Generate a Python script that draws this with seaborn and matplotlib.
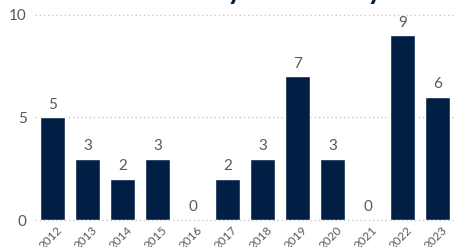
import matplotlib
matplotlib.use("Agg")
import matplotlib.pyplot as plt
import matplotlib.transforms as mtransforms
import seaborn as sns
import pandas as pd

years = ["2012", "2013", "2014", "2015", "2016", "2017", "2018", "2019", "2020", "2021", "2022", "2023"]
counts = [5, 3, 2, 3, 0, 2, 3, 7, 3, 0, 9, 6]
title = "Number of cases by calendar year"

sns.set_theme(style="white")
plt.rcParams["font.family"] = ["Lato", "DejaVu Sans"]

navy = "#011f44"
gray = "#595959"

df = pd.DataFrame({"year": years, "count": counts})

fig = plt.figure(figsize=(4.54, 2.47), dpi=100)
ax = fig.add_axes([35 / 454, 1 - 220 / 247, 420 / 454, 205 / 247])

sns.barplot(data=df, x="year", y="count", color=navy, width=0.72, ax=ax, saturation=1)

ax.set_xlim(-0.5, 11.5)
ax.set_ylim(0, 10)
ax.set_yticks([0, 5, 10])
for v in [0, 5, 10]:
    ax.axhline(v, color="#c8c8c8", lw=1, ls=(0, (1, 2)), zorder=0, clip_on=False)
for s in ax.spines.values():
    s.set_visible(False)
ax.set_xlabel("")
ax.set_ylabel("")
ax.tick_params(axis="y", length=0, labelsize=11, labelcolor=gray, pad=6)
ax.tick_params(axis="x", length=0, labelsize=8.5, labelcolor=gray, pad=3)
offset = mtransforms.ScaledTranslation(4 / 100, 0, fig.dpi_scale_trans)
for lab in ax.get_xticklabels():
    lab.set_rotation(45)
    lab.set_ha("right")
    lab.set_rotation_mode("anchor")
    lab.set_transform(lab.get_transform() + offset)

for i, v in enumerate(counts):
    ax.annotate(str(v), (i, v), xytext=(0, 4), textcoords="offset points",
                ha="center", va="bottom", fontsize=11, color=gray, clip_on=False)

fig.text(424 / 454, 1 + 1.5 / 247, title, ha="right", va="baseline", fontsize=21,
         fontweight="bold", color=navy)

fig.savefig("out.png", dpi=100)
